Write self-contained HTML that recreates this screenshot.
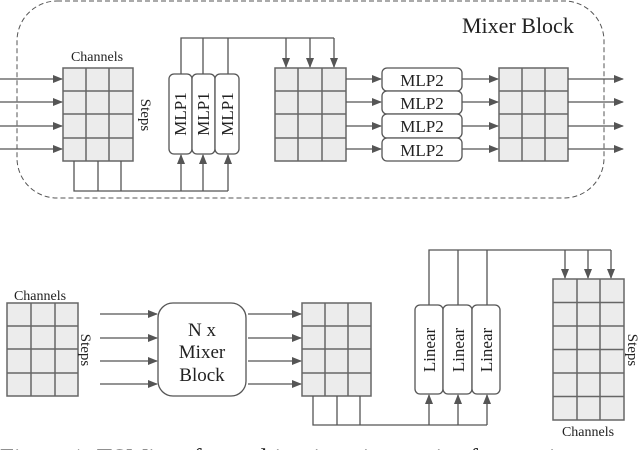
<!DOCTYPE html>
<html><head><meta charset="utf-8"><style>
html,body{margin:0;padding:0;background:#fff;width:640px;height:450px;overflow:hidden}
svg{display:block}
text{font-family:"Liberation Serif",serif;fill:#222}
</style></head><body>
<svg width="640" height="450" viewBox="0 0 640 450" xmlns="http://www.w3.org/2000/svg">
<defs>
<marker id="a" markerWidth="10" markerHeight="8" refX="9" refY="4" orient="auto" markerUnits="userSpaceOnUse">
<path d="M0,0 L10,4 L0,8 z" fill="#555"/></marker>
</defs>
<rect x="17" y="1" width="587" height="197" rx="40" stroke="#555" stroke-dasharray="5,3" stroke-width="1" fill="none"/>
<text x="462" y="33" font-size="22">Mixer Block</text>

<g stroke="#666" stroke-width="1.5" fill="#ececec">
<rect x="63" y="68" width="70" height="93"/>
<path d="M86,68V161M109,68V161M63,91H133M63,114H133M63,138H133" fill="none"/>
<rect x="275" y="68" width="71" height="93"/>
<path d="M298,68V161M322,68V161M275,91H346M275,114H346M275,138H346" fill="none"/>
<rect x="499" y="68" width="69" height="93"/>
<path d="M522,68V161M545,68V161M499,91H568M499,114H568M499,138H568" fill="none"/>
<rect x="7" y="303" width="71" height="93"/>
<path d="M31,303V396M55,303V396M7,326H78M7,349H78M7,373H78" fill="none"/>
<rect x="302" y="303" width="69" height="93"/>
<path d="M325,303V396M348,303V396M302,326H371M302,349H371M302,373H371" fill="none"/>
<rect x="553" y="279" width="71" height="141"/>
<path d="M577,279V420M600,279V420M553,302.5H624M553,326H624M553,349.5H624M553,373H624M553,396.5H624" fill="none"/>
</g>

<text x="97" y="61" font-size="14" text-anchor="middle">Channels</text>
<text transform="translate(141,115) rotate(90)" font-size="15" text-anchor="middle">Steps</text>
<text x="40" y="300" font-size="14" text-anchor="middle">Channels</text>
<text transform="translate(81,350) rotate(90)" font-size="15" text-anchor="middle">Steps</text>
<text x="588" y="436" font-size="14" text-anchor="middle">Channels</text>
<text transform="translate(628,350) rotate(90)" font-size="15" text-anchor="middle">Steps</text>

<g stroke="#555" stroke-width="1.3" fill="none">
<path d="M181,74V38H334M203,74V38M228,74V38"/>
<path d="M74,161V191H228M98,161V191M121,161V191"/>
<path d="M313,396V425H487M337,396V425M360,396V425"/>
<path d="M429,305V250H611M458,305V250M487,305V250"/>
</g>
<g stroke="#555" stroke-width="1.3" fill="none" marker-end="url(#a)">
<path d="M0,79H62"/><path d="M0,102H62"/><path d="M0,126H62"/><path d="M0,149H62"/>
<path d="M286,38V67"/><path d="M310,38V67"/><path d="M334,38V67"/>
<path d="M181,191V155"/><path d="M203,191V155"/><path d="M228,191V155"/>
<path d="M346,79H381"/><path d="M346,102H381"/><path d="M346,126H381"/><path d="M346,149H381"/>
<path d="M462,79H498"/><path d="M462,102H498"/><path d="M462,126H498"/><path d="M462,149H498"/>
<path d="M568,79H623"/><path d="M568,102H623"/><path d="M568,126H623"/><path d="M568,149H623"/>
<path d="M100,314H157"/><path d="M100,338H157"/><path d="M100,361H157"/><path d="M100,384H157"/>
<path d="M248,314H301"/><path d="M248,338H301"/><path d="M248,361H301"/><path d="M248,384H301"/>
<path d="M429,425V395"/><path d="M458,425V395"/><path d="M487,425V395"/>
<path d="M565,250V278"/><path d="M588,250V278"/><path d="M611,250V278"/>
</g>

<g stroke="#555" stroke-width="1.3" fill="#fff">
<rect x="169" y="74" width="23" height="80" rx="5"/>
<rect x="192" y="74" width="23" height="80" rx="5"/>
<rect x="215" y="74" width="24" height="80" rx="5"/>
<rect x="382" y="68" width="80" height="23" rx="5"/>
<rect x="382" y="91" width="80" height="23" rx="5"/>
<rect x="382" y="114" width="80" height="24" rx="5"/>
<rect x="382" y="138" width="80" height="23" rx="5"/>
<rect x="158" y="303" width="88" height="93" rx="15"/>
<rect x="415" y="305" width="28" height="89" rx="5"/>
<rect x="443" y="305" width="29" height="89" rx="5"/>
<rect x="472" y="305" width="28" height="89" rx="5"/>
</g>
<g font-size="17" text-anchor="middle">
<text transform="translate(186,114) rotate(-90)">MLP1</text>
<text transform="translate(209,114) rotate(-90)">MLP1</text>
<text transform="translate(233,114) rotate(-90)">MLP1</text>
<text x="422" y="86">MLP2</text>
<text x="422" y="109">MLP2</text>
<text x="422" y="132">MLP2</text>
<text x="422" y="156">MLP2</text>
<text transform="translate(435,350) rotate(-90)">Linear</text>
<text transform="translate(464,350) rotate(-90)">Linear</text>
<text transform="translate(492,350) rotate(-90)">Linear</text>
</g>
<g font-size="19" text-anchor="middle">
<text x="202" y="336">N x</text>
<text x="202" y="358">Mixer</text>
<text x="202" y="381">Block</text>
</g>
<text x="0" y="466" font-size="25">Figure 1: TSMixer for multivariate time series forecasting</text>
</svg>
</body></html>
